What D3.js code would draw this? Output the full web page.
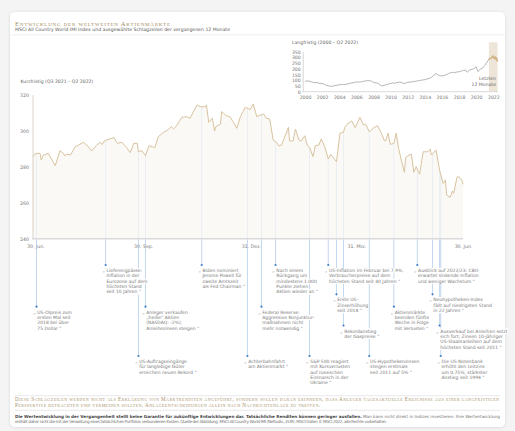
<!DOCTYPE html>
<html><head><meta charset="utf-8">
<script src="https://cdn.jsdelivr.net/npm/d3@7"></script>
<style>body{margin:0;background:#f4f4f4;} svg{display:block}</style>
</head><body><svg id="c" width="515" height="431"></svg>
<script>
// ---------- DATA ----------
const shortDates = ["2021-06-28","2021-06-30","2021-07-04","2021-07-05","2021-07-07","2021-07-11","2021-07-17","2021-07-21","2021-07-24","2021-07-25","2021-07-27","2021-07-30",
"2021-08-03","2021-08-07","2021-08-10","2021-08-13","2021-08-17","2021-08-21","2021-08-24","2021-08-26","2021-08-28",
"2021-09-03","2021-09-05","2021-09-08","2021-09-12","2021-09-14","2021-09-16","2021-09-19","2021-09-22","2021-09-25","2021-09-26","2021-09-29",
"2021-10-02","2021-10-05","2021-10-10","2021-10-13","2021-10-17","2021-10-21","2021-10-24","2021-10-26","2021-10-29",
"2021-11-02","2021-11-06","2021-11-09","2021-11-15","2021-11-18","2021-11-22","2021-11-23","2021-11-25","2021-11-28","2021-11-30",
"2021-12-01","2021-12-05","2021-12-06","2021-12-10","2021-12-13","2021-12-16","2021-12-19","2021-12-22","2021-12-26","2021-12-29","2021-12-30",
"2022-01-02","2022-01-05","2022-01-08","2022-01-11","2022-01-13","2022-01-16","2022-01-19","2022-01-22","2022-01-24","2022-01-26","2022-01-29",
"2022-02-01","2022-02-02","2022-02-05","2022-02-07","2022-02-10","2022-02-12","2022-02-15","2022-02-17","2022-02-19","2022-02-22","2022-02-24","2022-02-27",
"2022-03-01","2022-03-04","2022-03-07","2022-03-09","2022-03-14","2022-03-17","2022-03-20","2022-03-21","2022-03-23","2022-03-27","2022-03-30",
"2022-04-03","2022-04-06","2022-04-08","2022-04-11","2022-04-15","2022-04-18","2022-04-21","2022-04-24","2022-04-25","2022-04-27","2022-04-29",
"2022-05-02","2022-05-04","2022-05-06","2022-05-09","2022-05-11","2022-05-12","2022-05-15","2022-05-17","2022-05-19","2022-05-21","2022-05-24","2022-05-27","2022-05-31",
"2022-06-02","2022-06-03","2022-06-07","2022-06-10","2022-06-13","2022-06-15","2022-06-16","2022-06-19","2022-06-21","2022-06-22","2022-06-25","2022-06-27","2022-06-29","2022-06-30"];
const shortValues = [285.6,287.4,287.4,283.7,286.5,287.4,280.6,288.9,287.4,286.1,287.0,286.5,
291.1,292.4,293.5,292.0,288.7,291.7,293.5,292.4,294.4,
295.8,296.1,293.0,293.5,292.0,290.6,287.8,293.0,293.0,288.3,288.9,
286.1,291.7,290.6,296.7,298.9,300.4,302.2,301.0,303.2,
307.4,307.8,306.9,314.3,313.3,313.3,314.3,304.7,306.9,299.8,
302.2,303.6,310.6,308.3,307.8,304.7,301.3,307.8,312.8,312.4,311.5,
314.8,307.8,308.7,309.2,306.9,306.5,294.8,293.5,291.5,292.0,296.7,
301.9,294.3,294.3,300.9,294.8,294.3,297.2,292.0,290.9,285.6,291.7,292.0,
295.4,291.1,284.3,286.9,282.8,298.6,299.1,301.7,303.6,305.4,301.7,
307.4,303.2,303.6,299.4,301.7,302.8,299.1,294.4,294.3,298.6,292.4,
293.0,298.6,290.2,281.9,276.9,285.0,286.5,286.9,276.9,280.0,275.8,288.3,288.3,
289.7,286.5,289.3,278.2,270.7,272.6,264.3,263.0,266.5,265.2,274.4,274.1,272.6,270.2];

const xTickDates = ["2021-06-30","2021-09-30","2021-12-31","2022-03-31","2022-06-30"];
const xTickLabels = ["30. Jun.","30. Sep.","31. Dez.","31. Mrz.","30. Jun."];
const yTicksShort = [240,260,280,300,320];

const longYears = [2000,2000.25,2000.5,2000.75,2001,2001.25,2001.5,2001.75,2002,2002.25,2002.5,2002.75,2003,2003.25,2003.5,2003.75,
2004,2004.25,2004.5,2004.75,2005,2005.25,2005.5,2005.75,2006,2006.25,2006.5,2006.75,2007,2007.25,2007.5,2007.75,
2008,2008.25,2008.5,2008.75,2009,2009.25,2009.5,2009.75,2010,2010.25,2010.5,2010.75,2011,2011.25,2011.5,2011.75,
2012,2012.25,2012.5,2012.75,2013,2013.25,2013.5,2013.75,2014,2014.25,2014.5,2014.75,2015,2015.25,2015.5,2015.75,
2016,2016.25,2016.5,2016.75,2017,2017.25,2017.5,2017.75,2018,2018.25,2018.5,2018.75,2018.95,2019.25,2019.5,2019.75,
2020,2020.2,2020.5,2020.75,2021,2021.25];
const longValues = [90,95,92,86,80,78,80,70,72,66,55,52,47,48,54,57,
61,63,62,64,68,72,78,80,86,84,85,90,93,96,97,92,
82,78,74,60,50,56,62,67,72,77,74,80,84,82,72,75,
82,84,86,88,93,96,99,103,105,111,116,124,142,158,150,140,
138,142,148,158,165,170,167,173,174,180,186,190,170,190,196,202,
218,176,198,206,230,255];
const yTicksLong = [0,50,100,150,200,250,300,350];
const xTicksLong = [2000,2002,2004,2006,2008,2010,2012,2014,2016,2018,2020,2022];

const headlineDates = ["2021-07-01","2021-08-29","2021-10-02","2021-09-26","2021-11-19","2021-12-28","2022-01-09","2022-01-21","2022-02-19",
"2022-03-07","2022-03-14","2022-03-20","2022-04-11","2022-05-02","2022-05-22","2022-06-04","2022-06-10","2022-06-11"];
const headlineTexts = [
 ["US-Ölpreis zum","ersten Mal seit","2018 bei über","75 Dollar “"],
 ["Lieferengpässe:","Inflation in der","Eurozone auf dem","höchsten Stand","seit 10 Jahren “"],
 ["Anleger verkaufen","„heiße“ Aktien","(NASDAQ: -2%),","Anleihezinsen steigen “"],
 ["US-Auftragseingänge","für langlebige Güter","erreichen neuen Rekord “"],
 ["Biden nominiert","Jerome Powell für","zweite Amtszeit","als Fed Chairman “"],
 ["Achterbahnfahrt","am Aktienmarkt “"],
 ["Federal Reserve:","Aggressive Konjunktur-","maßnahmen nicht","mehr notwendig “"],
 ["Nach einem","Rückgang um","mindestens 1.000","Punkte ziehen","Aktien wieder an “"],
 ["S&P 500 reagiert","mit Kursverlusten","auf russischen","Einmarsch in der","Ukraine “"],
 ["US-Inflation im Februar bei 7,9%,","Verbraucherpreise auf dem","höchsten Stand seit 40 Jahren “"],
 ["Erste US-","Zinserhöhung","seit 2018 “"],
 ["Rekordanstieg","der Gaspreise “"],
 ["US-Hypothekenzinsen","steigen erstmals","seit 2011  auf 5% “"],
 ["Aktienmärkte","beenden fünfte","Woche in Folge","mit Verlusten “"],
 ["Ausblick auf 2022/23: CBO","erwartet sinkende Inflation","und weniger Wachstum “"],
 ["Neuhypotheken-Index","fällt auf niedrigsten Stand","in 22 Jahren “"],
 ["Ausverkauf bei Anleihen setzt","sich fort; Zinsen 10-jähriger","US-Staatsanleihen auf dem","höchsten Stand seit 2011 “"],
 ["Die US-Notenbank","erhöht den Leitzins","um 0,75%, stärkster","Anstieg seit 1994 “"]
];
// layout only: which row each headline sits in
const headlineRows = [2,0,2,4,0,4,2,0,4,0,1,3,4,2,0,1,3,4];
const rowY = [265,294.3,306.7,325.5,356];

// ---------- DRAW ----------
const SANS = "DejaVu Sans, Verdana, sans-serif";
const SERIF = "Liberation Serif, DejaVu Serif, serif";
const parse = d3.utcParse("%Y-%m-%d");
const svg = d3.select("#c");
const defs = svg.append("defs");
const flt = defs.append("filter").attr("id","sh").attr("x","-5%").attr("y","-5%").attr("width","110%").attr("height","110%");
flt.append("feDropShadow").attr("dx",0).attr("dy",0.5).attr("stdDeviation",1.5).attr("flood-color","#000").attr("flood-opacity",0.12);

svg.append("rect").attr("width",515).attr("height",431).attr("fill","#f4f4f4");
svg.append("rect").attr("x",10).attr("y",12).attr("width",495).attr("height",415).attr("rx",5).attr("fill","#fff").attr("filter","url(#sh)");

// title
svg.append("text").attr("x",15).attr("y",25.7).attr("font-family",SERIF).attr("font-size",6.6)
  .style("font-variant","small-caps").attr("fill","#a38d60").attr("textLength",155).attr("lengthAdjust","spacing")
  .text("Entwicklung der weltweiten Aktienmärkte");
svg.append("text").attr("x",15).attr("y",31.2).attr("font-family",SANS).attr("font-size",4.6).attr("fill","#555")
  .attr("textLength",215).attr("lengthAdjust","spacing")
  .text("MSCI All Country World IMI Index und ausgewählte Schlagzeilen der vergangenen 12 Monate");
svg.append("line").attr("x1",10).attr("x2",505).attr("y1",34.8).attr("y2",34.8).attr("stroke","#ececec").attr("stroke-width",0.8);

// ---- main chart ----
const series = shortDates.map((d,i)=>({date:parse(d), value:shortValues[i]}));
const x = d3.scaleUtc().domain([parse("2021-06-28"), parse("2022-06-30")]).range([33,463]);
const y = d3.scaleLinear().domain([240,320]).range([238.7,94.7]);

svg.append("text").attr("x",20.5).attr("y",83.3).attr("font-family",SANS).attr("font-size",4.6).attr("fill","#666")
  .text("Kurzfristig (Q3 2021 – Q2 2022)");

svg.append("path").datum(series).attr("fill","#fbf9f6")
  .attr("d", d3.area().x(d=>x(d.date)).y0(y(240)).y1(d=>y(d.value)));

const bis = d3.bisector(d=>d.date).left;
function valueAt(date){
  const i = bis(series, date);
  if(i<=0) return series[0].value;
  if(i>=series.length) return series[series.length-1].value;
  const a=series[i-1], b=series[i];
  const t=(date-a.date)/(b.date-a.date);
  return a.value+(b.value-a.value)*t;
}
const heads = headlineDates.map((d,i)=>({date:parse(d), lines:headlineTexts[i], row:headlineRows[i]}));

svg.append("g").selectAll("line").data(heads).join("line")
  .attr("x1",d=>x(d.date)).attr("x2",d=>x(d.date))
  .attr("y1",d=>y(valueAt(d.date))).attr("y2",y(240))
  .attr("stroke","#e2e9f1").attr("stroke-width",0.7);

svg.append("path").datum(series).attr("fill","none").attr("stroke","#d8c39f").attr("stroke-width",1)
  .attr("stroke-linejoin","round")
  .attr("d", d3.line().x(d=>x(d.date)).y(d=>y(d.value)));

const gy = svg.append("g").attr("transform","translate(32.5,0)")
  .call(d3.axisLeft(y).tickValues(yTicksShort).tickSize(0).tickSizeOuter(0).tickPadding(3.5));
gy.attr("font-family",SANS).attr("font-size",4.7);
gy.select(".domain").attr("stroke","#cfc8bc").attr("stroke-width",0.8);
gy.selectAll("text").attr("fill","#777");

const gx = svg.append("g").attr("transform",`translate(0,${y(240)})`)
  .call(d3.axisBottom(x).tickValues(xTickDates.map(parse)).tickFormat((d,i)=>xTickLabels[i]).tickSize(0).tickSizeOuter(0).tickPadding(5.7));
gx.attr("font-family",SANS).attr("font-size",4.7);
gx.select(".domain").attr("stroke","#dadada").attr("stroke-width",1.6).attr("d",`M32,0H${x(parse("2022-06-30"))}`);
gx.selectAll("text").attr("fill","#777");

// headline connectors below the axis
svg.append("g").selectAll("line").data(heads).join("line")
  .attr("x1",d=>x(d.date)).attr("x2",d=>x(d.date))
  .attr("y1",y(240)+0.9).attr("y2",d=>rowY[d.row])
  .attr("stroke","#a9c5e6").attr("stroke-width",0.7);

// headline texts
const LH = 5.35;
const hg = svg.append("g").attr("font-family",SANS).attr("font-size",4.5);
heads.forEach(h=>{
  const hx = x(h.date), hy = rowY[h.row];
  const g = hg.append("g");
  const bg = g.append("g");
  h.lines.forEach((ln,k)=>{
    const t = g.append("text").attr("x",hx+0.8).attr("y",hy+7+k*LH).attr("fill","#7a7a7a").text(ln);
    const w = t.node().getComputedTextLength();
    bg.append("rect").attr("x",hx+0.3).attr("y",hy+7+k*LH-4.1).attr("width",w+1).attr("height",LH).attr("fill","#fff");
  });
  const q = g.append("text").attr("x",hx-0.9).attr("y",hy+7).attr("text-anchor","end").attr("fill","#7a7a7a").text("„");
  g.append("circle").attr("cx",hx).attr("cy",hy).attr("r",1.1).attr("fill","#3f7fc6");
});

// ---- inset long-term chart ----
const frac = d => d.getUTCFullYear() + (d3.utcDay.count(d3.utcYear(d), d))/365;
const longSeries = longYears.map((yr,i)=>({t:yr, v:longValues[i]})).concat([{t:frac(series[0].date), v:series[0].value}]);
const recent = series.map(d=>({t:frac(d.date), v:d.value}));
const xL = d3.scaleLinear().domain([2000,2022]).range([305,493.3]);
const yL = d3.scaleLinear().domain([0,350]).range([91.7,51.7]);

svg.append("rect").attr("x",xL(recent[0].t)).attr("y",42.3)
  .attr("width",xL(recent[recent.length-1].t)-xL(recent[0].t)).attr("height",91.7-42.3).attr("fill","#ede6d8");
svg.append("text").attr("x",292).attr("y",44).attr("font-family",SANS).attr("font-size",4.6).attr("fill","#666")
  .text("Langfristig (2000 – Q2 2022)");

const gyl = svg.append("g").attr("transform","translate(302.7,0)")
  .call(d3.axisLeft(yL).tickValues(yTicksLong).tickSize(0).tickSizeOuter(0).tickPadding(2));
gyl.attr("font-family",SANS).attr("font-size",4.6);
gyl.select(".domain").attr("stroke","#c4c4c4").attr("stroke-width",0.7);
gyl.selectAll("text").attr("fill","#777");

const gxl = svg.append("g").attr("transform","translate(0,91.7)")
  .call(d3.axisBottom(xL).tickValues(xTicksLong).tickFormat(d3.format("d")).tickSize(0).tickSizeOuter(0).tickPadding(4));
gxl.attr("font-family",SANS).attr("font-size",4.6);
gxl.select(".domain").attr("stroke","#cfcfcf").attr("stroke-width",0.8).attr("d","M302.7,0H498");
gxl.selectAll("text").attr("fill","#777");

const lineL = d3.line().x(d=>xL(d.t)).y(d=>yL(d.v));
svg.append("path").datum(longSeries).attr("fill","none").attr("stroke","#a3a3a3").attr("stroke-width",0.8).attr("d",lineL);
svg.append("path").datum(recent).attr("fill","none").attr("stroke","#cfb07f").attr("stroke-width",0.9).attr("d",lineL);

svg.append("text").attr("x",496).attr("y",80).attr("text-anchor","end").attr("font-family",SANS).attr("font-size",4.6).attr("fill","#666").text("Letzten");
svg.append("text").attr("x",496).attr("y",86).attr("text-anchor","end").attr("font-family",SANS).attr("font-size",4.6).attr("fill","#666").text("12 Monate");

// ---- footer ----
svg.append("line").attr("x1",15).attr("x2",500).attr("y1",395.7).attr("y2",395.7).attr("stroke","#e2e2e2").attr("stroke-width",0.8);
svg.append("line").attr("x1",15).attr("x2",500).attr("y1",410.3).attr("y2",410.3).attr("stroke","#e2e2e2").attr("stroke-width",0.8);
svg.append("text").attr("x",15).attr("y",400.8).attr("font-family",SERIF).attr("font-size",5.2).style("font-variant","small-caps")
  .attr("fill","#a8916a").attr("textLength",484).attr("lengthAdjust","spacing")
  .text("Diese Schlagzeilen werden nicht als Erklärung von Marktrenditen angeführt, sondern sollen daran erinnern, dass Anleger tagesaktuelle Ereignisse aus einer langfristigen");
svg.append("text").attr("x",15).attr("y",407.4).attr("font-family",SERIF).attr("font-size",5.2).style("font-variant","small-caps")
  .attr("fill","#a8916a").attr("textLength",305).attr("lengthAdjust","spacing")
  .text("Perspektive betrachten und vermeiden sollten, Anlageentscheidungen allein nach Nachrichtenlage zu treffen.");
const f1 = svg.append("text").attr("x",15).attr("y",418).attr("font-family",SANS).attr("font-size",4.2)
  .attr("textLength",485).attr("lengthAdjust","spacing");
f1.append("tspan").attr("font-weight","bold").attr("fill","#444")
  .text("Die Wertentwicklung in der Vergangenheit stellt keine Garantie für zukünftige Entwicklungen dar. Tatsächliche Renditen können geringer ausfallen.");
f1.append("tspan").attr("fill","#777").text(" Man kann nicht direkt in Indizes investieren. Ihre Wertentwicklung");
svg.append("text").attr("x",15).attr("y",423.2).attr("font-family",SANS).attr("font-size",4.2).attr("fill","#777")
  .attr("textLength",372).attr("lengthAdjust","spacing")
  .text("enthält daher nicht die mit der Verwaltung eines tatsächlichen Portfolios verbundenen Kosten. Quelle der Abbildung: MSCI All Country World IMI (Nettodiv., EUR). MSCI Daten © MSCI 2022, alle Rechte vorbehalten.");
</script>
</body></html>
